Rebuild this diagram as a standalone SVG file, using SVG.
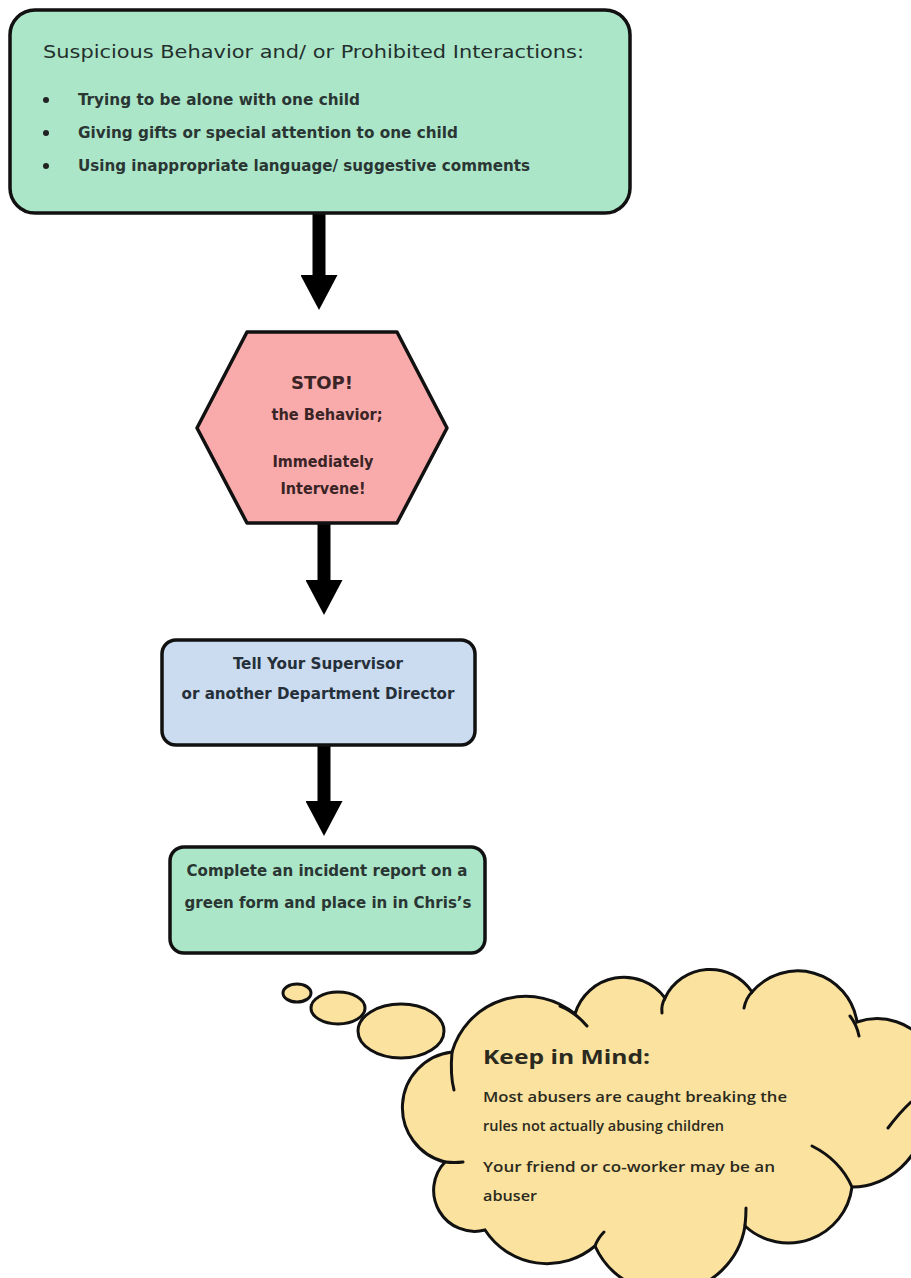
<svg xmlns="http://www.w3.org/2000/svg" width="911" height="1278" viewBox="0 0 911 1278">
<style>
.box{stroke:#111;stroke-width:3.5;stroke-linejoin:round}
.green{fill:#ace6c9}
.pink{fill:#f9abab}
.blue{fill:#cbdcf0}
.cloud{fill:#fbe29e;stroke:#111;stroke-width:3}
.inner{fill:none;stroke:#111;stroke-width:3;stroke-linecap:round}
.t{font-family:"DejaVu Sans Condensed","DejaVu Sans",Verdana,sans-serif;font-weight:bold;fill:#2a3633}
.title{font-family:"DejaVu Sans Condensed","DejaVu Sans",Verdana,sans-serif;fill:#23302d;font-size:18px}
.c{font-family:"Open Sans","Liberation Sans",sans-serif;fill:#2a2a20}
.conn{stroke:#000;stroke-width:13}
</style>
<defs>
<marker id="ah" viewBox="0 0 35 37" refX="0" refY="18.5" markerWidth="35" markerHeight="37" markerUnits="userSpaceOnUse" orient="auto">
<path d="M0,0 L35,18.5 L0,37 Z" fill="#000"/>
</marker>
</defs>
<rect width="911" height="1278" fill="#fff"/>

<g id="connectors">
<line class="conn" x1="319" y1="213" x2="319" y2="275" marker-end="url(#ah)"/>
<line class="conn" x1="324" y1="524" x2="324" y2="580" marker-end="url(#ah)"/>
<line class="conn" x1="324" y1="745" x2="324" y2="801" marker-end="url(#ah)"/>
</g>

<g id="suspicious">
<rect class="box green" x="10" y="10" width="620" height="203" rx="25"/>
<text class="title" x="43" y="58" textLength="541" lengthAdjust="spacingAndGlyphs">Suspicious Behavior and/ or Prohibited Interactions:</text>
<circle cx="46" cy="100" r="3" fill="#222"/>
<circle cx="46" cy="133" r="3" fill="#222"/>
<circle cx="46" cy="166" r="3" fill="#222"/>
<text class="t" x="78" y="105" font-size="15" textLength="282" lengthAdjust="spacingAndGlyphs">Trying to be alone with one child</text>
<text class="t" x="78" y="138" font-size="15" textLength="380" lengthAdjust="spacingAndGlyphs">Giving gifts or special attention to one child</text>
<text class="t" x="78" y="171" font-size="15" textLength="452" lengthAdjust="spacingAndGlyphs">Using inappropriate language/ suggestive comments</text>
</g>

<g id="stop">
<polygon class="box pink" points="247,332 397,332 447,428 397,523 247,523 197,428"/>
<text class="t" x="322" y="389" font-size="18" text-anchor="middle" style="fill:#3a2426" textLength="62" lengthAdjust="spacingAndGlyphs">STOP!</text>
<text class="t" x="327" y="420" font-size="15" text-anchor="middle" style="fill:#3a2426" textLength="111" lengthAdjust="spacingAndGlyphs">the Behavior;</text>
<text class="t" x="323" y="467" font-size="15" text-anchor="middle" style="fill:#3a2426" textLength="101" lengthAdjust="spacingAndGlyphs">Immediately</text>
<text class="t" x="323" y="494" font-size="15" text-anchor="middle" style="fill:#3a2426" textLength="85" lengthAdjust="spacingAndGlyphs">Intervene!</text>
</g>

<g id="tell">
<rect class="box blue" x="162" y="640" width="313" height="105" rx="14"/>
<text class="t" x="318" y="669" font-size="15" text-anchor="middle" style="fill:#26303a" textLength="170" lengthAdjust="spacingAndGlyphs">Tell Your Supervisor</text>
<text class="t" x="318" y="699" font-size="15" text-anchor="middle" style="fill:#26303a" textLength="273" lengthAdjust="spacingAndGlyphs">or another Department Director</text>
</g>

<g id="report">
<rect class="box green" x="170" y="847" width="315" height="106" rx="14"/>
<text class="t" x="327" y="876" font-size="15" text-anchor="middle" textLength="281" lengthAdjust="spacingAndGlyphs">Complete an incident report on a</text>
<text class="t" x="328" y="908" font-size="15" text-anchor="middle" textLength="287" lengthAdjust="spacingAndGlyphs">green form and place in in Chris’s</text>
</g>

<g id="keep-in-mind">
<ellipse class="cloud" cx="297" cy="993" rx="14" ry="9"/>
<ellipse class="cloud" cx="338" cy="1008" rx="27" ry="16"/>
<ellipse class="cloud" cx="401" cy="1031" rx="43" ry="27"/>
<path class="cloud" d="M452,1052 A77,77 0 0 1 575,1014 A51,51 0 0 1 665,998 A50,50 0 0 1 752,992 A60,60 0 0 1 857,1022 A62,62 0 0 1 925,1120 A75,75 0 0 1 852,1187 A64,64 0 0 1 745,1226 A79,79 0 0 1 595,1246 A74,74 0 0 1 485,1230 A41,41 0 0 1 445,1162 A56,56 0 0 1 452,1052 Z"/>
<path class="inner" d="M452,1052 Q450,1075 454,1090"/>
<path class="inner" d="M560,1006 Q575,1012 587,1026"/>
<path class="inner" d="M665,998 Q661,1005 662,1013"/>
<path class="inner" d="M752,992 Q746,998 744,1008"/>
<path class="inner" d="M850,1016 Q857,1025 859,1036"/>
<path class="inner" d="M888,1128 Q900,1112 911,1102"/>
<path class="inner" d="M812,1146 Q840,1160 852,1187"/>
<path class="inner" d="M745,1226 Q746,1216 746,1208"/>
<path class="inner" d="M595,1246 Q598,1238 604,1232"/>
<path class="inner" d="M445,1162 Q455,1163 463,1162"/>
<text class="c" x="483" y="1064" font-size="19" font-weight="bold" textLength="167" lengthAdjust="spacingAndGlyphs">Keep in Mind:</text>
<text class="c" x="483" y="1102" font-size="14.5" font-weight="600" textLength="304" lengthAdjust="spacingAndGlyphs">Most abusers are caught breaking the</text>
<text class="c" x="483" y="1131" font-size="14.5" font-weight="600" textLength="241" lengthAdjust="spacingAndGlyphs">rules not actually abusing children</text>
<text class="c" x="483" y="1172" font-size="14.5" font-weight="600" textLength="292" lengthAdjust="spacingAndGlyphs">Your friend or co-worker may be an</text>
<text class="c" x="483" y="1201" font-size="14.5" font-weight="600" textLength="54" lengthAdjust="spacingAndGlyphs">abuser</text>
</g>
</svg>
